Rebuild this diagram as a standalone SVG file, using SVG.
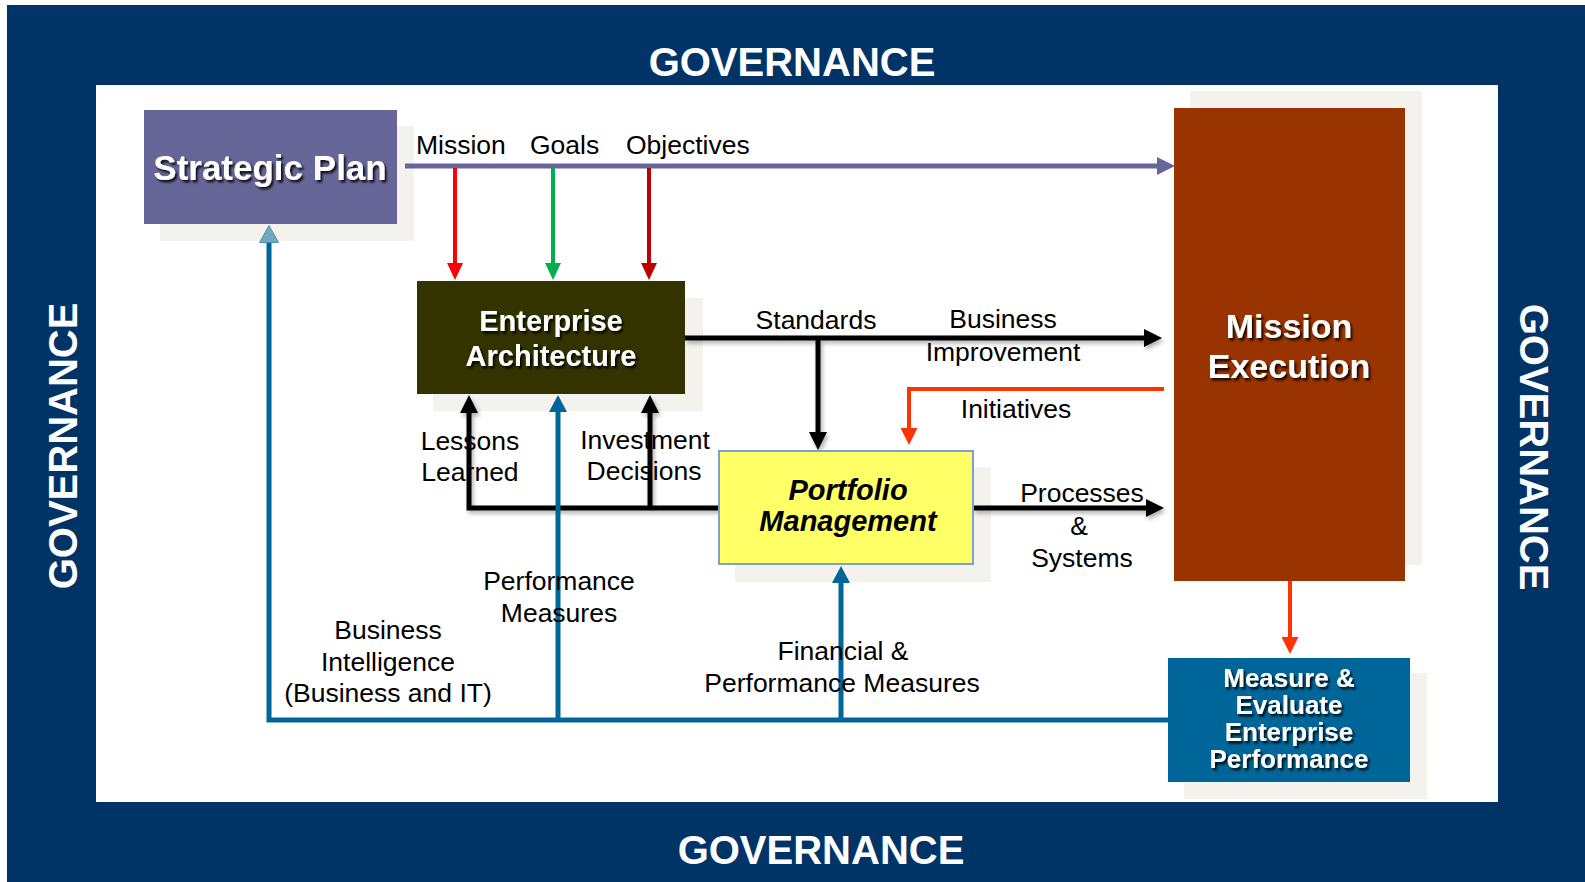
<svg xmlns="http://www.w3.org/2000/svg" width="1585" height="882" viewBox="0 0 1585 882">
<style>
  text { font-family: "Liberation Sans", Arial, sans-serif; }
  .lbl { font-size: 26.5px; fill: #000; text-anchor: middle; }
  .lbls { font-size: 26.5px; fill: #000; }
  .gov { font-size: 40px; font-weight: bold; fill: #fff; text-anchor: middle; }
  .bw { font-weight: bold; fill: #fff; text-anchor: middle; filter: url(#tshadow); }
  .shadowbox { fill: #f3f2ed; }
  .c-black { stroke: #000; stroke-width: 5; fill: none; }
  .c-blue { stroke: #006699; stroke-width: 5; fill: none; }
</style>
<defs>
  <filter id="tshadow" x="-10%" y="-20%" width="130%" height="160%">
    <feDropShadow dx="2" dy="2.5" stdDeviation="1" flood-color="#000" flood-opacity="0.85"/>
  </filter>
  <filter id="lshadow" x="-10%" y="-10%" width="120%" height="130%">
    <feDropShadow dx="2" dy="3" stdDeviation="2" flood-color="#000" flood-opacity="0.3"/>
  </filter>
  <marker id="ah-purple" viewBox="0 0 18 18" refX="1" refY="9" markerWidth="18" markerHeight="18" markerUnits="userSpaceOnUse" orient="auto"><path d="M0,0 L18,9 L0,18 z" fill="#666699"/></marker>
  <marker id="ah-red" viewBox="0 0 17 16" refX="1" refY="8" markerWidth="17" markerHeight="16" markerUnits="userSpaceOnUse" orient="auto"><path d="M0,0 L17,8 L0,16 z" fill="#ff0000"/></marker>
  <marker id="ah-green" viewBox="0 0 17 16" refX="1" refY="8" markerWidth="17" markerHeight="16" markerUnits="userSpaceOnUse" orient="auto"><path d="M0,0 L17,8 L0,16 z" fill="#00b050"/></marker>
  <marker id="ah-dred" viewBox="0 0 17 16" refX="1" refY="8" markerWidth="17" markerHeight="16" markerUnits="userSpaceOnUse" orient="auto"><path d="M0,0 L17,8 L0,16 z" fill="#c00000"/></marker>
  <marker id="ah-black" viewBox="0 0 18 18" refX="1" refY="9" markerWidth="18" markerHeight="18" markerUnits="userSpaceOnUse" orient="auto"><path d="M0,0 L18,9 L0,18 z" fill="#000"/></marker>
  <marker id="ah-orange" viewBox="0 0 17 17" refX="1" refY="8.5" markerWidth="17" markerHeight="17" markerUnits="userSpaceOnUse" orient="auto"><path d="M0,0 L17,8.5 L0,17 z" fill="#ff3300"/></marker>
  <marker id="ah-blue" viewBox="0 0 17 18" refX="1" refY="9" markerWidth="17" markerHeight="18" markerUnits="userSpaceOnUse" orient="auto"><path d="M0,0 L17,9 L0,18 z" fill="#006699"/></marker>
  <marker id="ah-lblue" viewBox="0 0 18 20" refX="1" refY="10" markerWidth="18" markerHeight="20" markerUnits="userSpaceOnUse" orient="auto"><path d="M0.5,0.5 L17.5,10 L0.5,19.5 z" fill="#72a9c2" stroke="#4f8fae" stroke-width="1"/></marker>
</defs>

<!-- frame -->
<rect x="0" y="0" width="1585" height="882" fill="#fff"/>
<rect x="7" y="5" width="1578" height="877" fill="#003366"/>
<rect x="96" y="85" width="1402" height="717" fill="#fff"/>
<g id="governance-labels">
  <text class="gov" x="792" y="76">GOVERNANCE</text>
  <text class="gov" x="821" y="864">GOVERNANCE</text>
  <text class="gov" transform="translate(77,446) rotate(-90)" x="0" y="0">GOVERNANCE</text>
  <text class="gov" transform="translate(1520,447) rotate(90)" x="0" y="0">GOVERNANCE</text>
</g>

<!-- node shadows -->
<g id="shadows">
  <rect class="shadowbox" x="160" y="126" width="254" height="115"/>
  <rect class="shadowbox" x="433" y="298" width="270" height="113"/>
  <rect class="shadowbox" x="735" y="467" width="256" height="115"/>
  <rect class="shadowbox" x="1190" y="91" width="232" height="474"/>
  <rect class="shadowbox" x="1184" y="673" width="243" height="126"/>
</g>

<!-- connectors -->
<g id="connectors">
  <path d="M405,166 H1158" stroke="#666699" stroke-width="5" fill="none" marker-end="url(#ah-purple)"/>
  <path d="M455,168 V264" stroke="#ff0000" stroke-width="4" fill="none" marker-end="url(#ah-red)"/>
  <path d="M553,168 V264" stroke="#00b050" stroke-width="4" fill="none" marker-end="url(#ah-green)"/>
  <path d="M649,168 V264" stroke="#c00000" stroke-width="4" fill="none" marker-end="url(#ah-dred)"/>
  <g filter="url(#lshadow)">
    <path class="c-black" d="M685,338 H1145" marker-end="url(#ah-black)"/>
    <path class="c-black" d="M818,338 V433" marker-end="url(#ah-black)"/>
    <path class="c-black" d="M973,508 H1147" marker-end="url(#ah-black)"/>
    <path class="c-black" d="M719,508 H469 V412" marker-end="url(#ah-black)"/>
    <path class="c-black" d="M650,508 V412" marker-end="url(#ah-black)"/>
  </g>
  <path d="M1164,389 H909 V429" stroke="#ff3300" stroke-width="4" fill="none" marker-end="url(#ah-orange)"/>
  <path d="M1290,581 V638" stroke="#ff3300" stroke-width="4" fill="none" marker-end="url(#ah-orange)"/>
  <path class="c-blue" d="M1168,720 H269 V242" marker-end="url(#ah-lblue)"/>
  <path class="c-blue" d="M558,720 V411" marker-end="url(#ah-blue)"/>
  <path class="c-blue" d="M841,720 V582" marker-end="url(#ah-blue)"/>
</g>

<!-- connector labels -->
<g id="labels">
  <text class="lbls" x="416" y="154">Mission</text>
  <text class="lbls" x="530" y="154">Goals</text>
  <text class="lbls" x="626" y="154">Objectives</text>
  <text class="lbl" x="816" y="329">Standards</text>
  <text class="lbl" x="1003" y="328">Business</text>
  <text class="lbl" x="1003" y="361">Improvement</text>
  <text class="lbl" x="1016" y="418">Initiatives</text>
  <text class="lbl" x="470" y="450">Lessons</text>
  <text class="lbl" x="470" y="481">Learned</text>
  <text class="lbl" x="645" y="449">Investment</text>
  <text class="lbl" x="644" y="480">Decisions</text>
  <text class="lbl" x="1082" y="502">Processes</text>
  <text class="lbl" x="1079" y="535">&amp;</text>
  <text class="lbl" x="1082" y="567">Systems</text>
  <text class="lbl" x="559" y="590">Performance</text>
  <text class="lbl" x="559" y="622">Measures</text>
  <text class="lbl" x="388" y="639">Business</text>
  <text class="lbl" x="388" y="671">Intelligence</text>
  <text class="lbl" x="388" y="702">(Business and IT)</text>
  <text class="lbl" x="843" y="660">Financial &amp;</text>
  <text class="lbl" x="842" y="692">Performance Measures</text>
</g>

<!-- nodes -->
<g id="strategic-plan">
  <rect x="144" y="110" width="253" height="114" fill="#666699"/>
  <text class="bw" x="270" y="180" font-size="35">Strategic Plan</text>
</g>
<g id="enterprise-architecture">
  <rect x="417" y="281" width="268" height="113" fill="#333300"/>
  <text class="bw" x="551" y="331" font-size="29">Enterprise</text>
  <text class="bw" x="551" y="366" font-size="29">Architecture</text>
</g>
<g id="portfolio-management">
  <rect x="719" y="451" width="254" height="113" fill="#ffff66" stroke="#7f9fcf" stroke-width="2"/>
  <text x="848" y="500" font-size="29" font-weight="bold" font-style="italic" text-anchor="middle" fill="#000">Portfolio</text>
  <text x="848" y="531" font-size="29" font-weight="bold" font-style="italic" text-anchor="middle" fill="#000">Management</text>
</g>
<g id="mission-execution">
  <rect x="1174" y="108" width="231" height="473" fill="#993300"/>
  <text class="bw" x="1289" y="338" font-size="34">Mission</text>
  <text class="bw" x="1289" y="378" font-size="34">Execution</text>
</g>
<g id="measure-evaluate">
  <rect x="1168" y="658" width="242" height="124" fill="#006699"/>
  <text class="bw" x="1289" y="687" font-size="26">Measure &amp;</text>
  <text class="bw" x="1289" y="714" font-size="26">Evaluate</text>
  <text class="bw" x="1289" y="741" font-size="26">Enterprise</text>
  <text class="bw" x="1289" y="768" font-size="26">Performance</text>
</g>
</svg>
